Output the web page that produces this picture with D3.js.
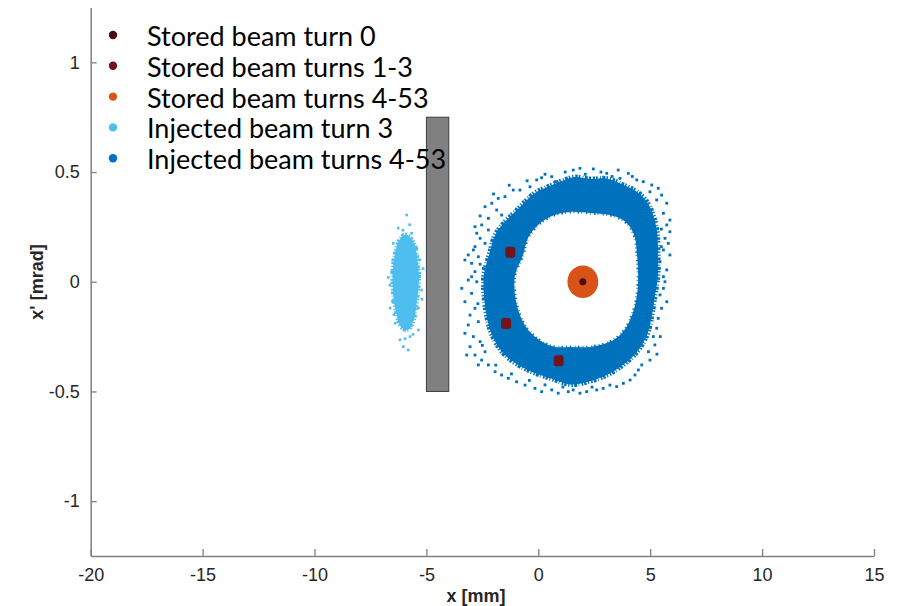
<!DOCTYPE html>
<html>
<head>
<meta charset="utf-8">
<script src="https://cdn.jsdelivr.net/npm/d3@7"></script>
<style>
  html, body { margin: 0; padding: 0; background: #fff; }
  svg { display: block; }
</style>
</head>
<body>
<svg id="chart" width="905" height="606"></svg>
<script>
// ---------- data ----------
const xDomain = [-20, 15];
const yDomain = [-1.25, 1.25];
const xTicks = [-20, -15, -10, -5, 0, 5, 10, 15];
const yTicks = [-1, -0.5, 0, 0.5, 1];
const xLabel = "x [mm]";
const yLabel = "x' [mrad]";

const legendLabels = ["Stored beam turn 0", "Stored beam turns 1-3", "Stored beam turns 4-53", "Injected beam turn 3", "Injected beam turns 4-53"];
const seriesColors = ["#4a0c12", "#72141b", "#d95319", "#4dbeee", "#0072bd"];

// septum blade (x range, x' range)
const septumX = [-5, -4];
const septumY = [-0.5, 0.75];

// Stored beam turn 0 (centre)
const storedTurn0 = [[1.99, 0.0]];
// Stored beam turns 1-3 (three compact blobs)
const storedTurns13 = [[-1.25, 0.135], [-1.44, -0.19], [0.91, -0.36]];
// Stored beam turns 4-53: filled spot, centre and half extents
const storedTurns453 = { cx: 1.99, cy: 0.0, hx: 0.69, hy: 0.074 };

// Injected beam turn 3: dense core outline
const injectedCore = [[-5.90, 0.215], [-5.55, 0.175], [-5.40, 0.099], [-5.33, 0.008], [-5.42, -0.083], [-5.55, -0.170], [-5.82, -0.220], [-6.12, -0.208], [-6.36, -0.138], [-6.50, -0.038], [-6.50, 0.063], [-6.35, 0.150], [-6.15, 0.200]];
// Injected beam turn 3: sparse particles
const injectedSparse = [[-5.88, 0.304], [-6.26, 0.244], [-5.66, 0.221], [-6.48, 0.175], [-5.43, 0.152], [-6.55, 0.046], [-5.29, 0.039], [-6.63, -0.015], [-5.21, -0.038], [-6.40, -0.189], [-5.36, -0.220], [-6.18, -0.265], [-5.73, -0.250], [-6.03, -0.296], [-5.81, -0.311], [-6.05, 0.235], [-5.75, 0.26], [-6.5, 0.10], [-5.3, 0.10], [-5.35, -0.12], [-6.52, -0.09], [-6.45, -0.15], [-5.95, -0.26], [-5.6, -0.24], [-6.7, 0.02], [-5.15, 0.06], [-5.2, -0.08], [-6.62, -0.12]];

// Injected beam turns 4-53: ring outer / inner outlines
const ringOuter = [[1.64, 0.477], [2.31, 0.468], [3.07, 0.470], [3.78, 0.442], [4.41, 0.410], [4.86, 0.364], [5.13, 0.304], [5.31, 0.227], [5.35, 0.122], [5.35, 0.031], [5.22, -0.060], [5.08, -0.152], [4.86, -0.243], [4.41, -0.320], [3.78, -0.380], [3.07, -0.425], [2.18, -0.457], [1.42, -0.468], [0.61, -0.442], [-0.28, -0.411], [-1.04, -0.370], [-1.62, -0.320], [-2.07, -0.243], [-2.29, -0.165], [-2.43, -0.060], [-2.43, 0.031], [-2.20, 0.122], [-1.93, 0.213], [-1.49, 0.273], [-1.04, 0.318], [-0.60, 0.364], [-0.15, 0.405], [0.43, 0.433], [1.10, 0.462]];
const ringInner = [[1.42, 0.318], [2.31, 0.313], [3.20, 0.304], [3.78, 0.281], [4.10, 0.249], [4.32, 0.199], [4.41, 0.122], [4.46, 0.031], [4.41, -0.060], [4.19, -0.152], [3.78, -0.229], [3.20, -0.274], [2.31, -0.297], [1.42, -0.297], [0.75, -0.297], [0.17, -0.274], [-0.46, -0.219], [-0.82, -0.152], [-1.04, -0.060], [-1.04, 0.031], [-0.68, 0.122], [-0.46, 0.199], [-0.01, 0.259], [0.61, 0.300]];
// Injected beam turns 4-53: sparse halo particles
const ringHalo = [
  [-0.07, 0.464], [0.15, 0.474], [0.60, 0.479], [0.75, 0.456], [-0.37, 0.433], [-0.82, 0.418], [-1.12, 0.418], [-1.49, 0.388], [-1.79, 0.380], [-2.08, 0.358], [-2.38, 0.342], [-1.86, 0.327], [-1.64, 0.304], [-2.23, 0.289], [-2.53, 0.259], [-2.83, 0.251], [-2.23, 0.236], [-2.75, 0.221], [-2.60, 0.198], [-2.38, 0.175], [-2.83, 0.160], [-2.90, 0.145], [-3.13, 0.122], [-3.28, 0.099], [-2.68, 0.114], [-2.98, 0.084], [-2.46, 0.061], [-2.83, 0.046], [-2.98, 0.023],
  [1.56, 0.509], [1.86, 0.517], [2.46, 0.514], [3.06, 0.494], [3.57, 0.509], [4.02, 0.494], [3.65, 0.471], [4.40, 0.464], [4.69, 0.456], [5.07, 0.441], [4.99, 0.410], [5.36, 0.426], [5.51, 0.395], [5.29, 0.373], [5.74, 0.358], [5.59, 0.312], [5.88, 0.281], [5.74, 0.259], [5.88, 0.228], [5.66, 0.198], [5.81, 0.175], [5.59, 0.145], [5.88, 0.122], [5.44, 0.091], [5.74, 0.054], [5.59, 0.023],
  [-3.13, 0.008], [-3.42, -0.030], [-2.98, -0.053], [-3.28, -0.091], [-2.83, -0.121], [-3.05, -0.152], [-2.68, -0.182], [-3.13, -0.197], [-3.28, -0.235], [-2.90, -0.250], [-2.60, -0.273], [-3.05, -0.296], [-2.83, -0.334], [-2.53, -0.357], [-3.20, -0.334], [-2.23, -0.379], [-1.93, -0.410], [-1.64, -0.425], [-1.34, -0.440], [-0.97, -0.456], [-0.59, -0.471], [-0.15, -0.486], [0.15, -0.501], [0.60, -0.493], [0.89, -0.508], [1.34, -0.501], [-2.68, -0.379], [-2.38, -0.319],
  [5.59, -0.030], [5.74, -0.091], [5.51, -0.121], [5.36, -0.167], [5.29, -0.212], [5.14, -0.250], [5.21, -0.288], [4.92, -0.319], [4.99, -0.357], [4.62, -0.379], [4.47, -0.402], [4.32, -0.425], [4.10, -0.448], [3.80, -0.463], [3.50, -0.478], [3.20, -0.471], [2.90, -0.486], [2.61, -0.493], [2.16, -0.501], [1.86, -0.508], [1.56, -0.493], [5.66, 0.000], [5.44, -0.060],
  [-2.6, 0.30], [-2.0, 0.40], [-1.3, 0.44], [-0.5, 0.46], [0.3, 0.49], [1.2, 0.50], [2.1, 0.49], [2.8, 0.50], [3.3, 0.48], [4.2, 0.48], [5.5, 0.24], [5.5, 0.16], [5.45, -0.25], [5.3, -0.33], [2.4, -0.48], [1.1, -0.48], [0.3, -0.47], [-0.4, -0.45], [-1.2, -0.42], [-1.9, -0.38], [-2.5, -0.29], [-2.7, -0.10], [-2.75, 0.0], [-2.6, 0.08]
];

// ---------- layout ----------
const svg = d3.select("#chart");
const x = d3.scaleLinear().domain(xDomain).range([90.7, 874]);
const y = d3.scaleLinear().domain(yDomain).range([556, 7.5]);
const axisColor = "#808080";
const textColor = "#262626";
const tickFont = "'Liberation Sans', Arimo, Arial, Helvetica, sans-serif";
const ragged = "1.2 1.6 2.4 0.9 1.7 2.3 0.8 1.4 2.9 1.1 1.5 2.0";
const raggedInner = "0.9 3.1 1.6 2.2 0.7 4.0 1.3 2.6";

const plot = svg.append("g");

// septum
plot.append("rect")
  .attr("x", x(septumX[0])).attr("y", y(septumY[1]))
  .attr("width", x(septumX[1]) - x(septumX[0]))
  .attr("height", y(septumY[0]) - y(septumY[1]))
  .attr("fill", "#808080").attr("stroke", "#3c3c3c").attr("stroke-width", 1);

// injected turn 3
const closedLine = d3.line().x(d => x(d[0])).y(d => y(d[1])).curve(d3.curveCatmullRomClosed);
plot.append("path").attr("d", closedLine(injectedCore)).attr("fill", seriesColors[3])
  .attr("stroke", seriesColors[3]).attr("stroke-width", 4).attr("stroke-dasharray", ragged);
plot.selectAll(".inj").data(injectedSparse).join("rect")
  .attr("x", d => x(d[0]) - 1.3).attr("y", d => y(d[1]) - 1.3)
  .attr("width", 2.6).attr("height", 2.6).attr("fill", seriesColors[3]);

// injected turns 4-53 ring
plot.append("path")
  .attr("d", closedLine(ringOuter) + closedLine(ringInner))
  .attr("fill", seriesColors[4]).attr("fill-rule", "evenodd");
plot.append("path").attr("d", closedLine(ringOuter)).attr("fill", "none")
  .attr("stroke", seriesColors[4]).attr("stroke-width", 5).attr("stroke-dasharray", ragged);
plot.append("path").attr("d", closedLine(ringInner)).attr("fill", "none")
  .attr("stroke", seriesColors[4]).attr("stroke-width", 3).attr("stroke-dasharray", raggedInner);
plot.selectAll(".halo").data(ringHalo).join("rect")
  .attr("x", d => x(d[0]) - 1.4).attr("y", d => y(d[1]) - 1.4)
  .attr("width", 2.8).attr("height", 2.8).attr("fill", seriesColors[4]);

// stored 4-53
plot.append("ellipse")
  .attr("cx", x(storedTurns453.cx)).attr("cy", y(storedTurns453.cy))
  .attr("rx", x(storedTurns453.cx + storedTurns453.hx) - x(storedTurns453.cx))
  .attr("ry", y(storedTurns453.cy) - y(storedTurns453.cy + storedTurns453.hy))
  .attr("fill", seriesColors[2]);

// stored 1-3
plot.selectAll(".s13").data(storedTurns13).join("rect")
  .attr("x", d => x(d[0]) - 5).attr("y", d => y(d[1]) - 5.5)
  .attr("width", 10).attr("height", 11).attr("rx", 3)
  .attr("fill", seriesColors[1]);

// stored 0
plot.selectAll(".s0").data(storedTurn0).join("circle")
  .attr("cx", d => x(d[0])).attr("cy", d => y(d[1])).attr("r", 3.5)
  .attr("fill", seriesColors[0]);

// ---------- axes ----------
const xAxis = svg.append("g").attr("transform", `translate(0,${y(yDomain[0])})`)
  .call(d3.axisBottom(x).tickValues(xTicks).tickSizeInner(-7).tickSizeOuter(0).tickPadding(12).tickFormat(d => String(d)));
const yAxis = svg.append("g").attr("transform", `translate(${x(xDomain[0])},0)`)
  .call(d3.axisLeft(y).tickValues(yTicks).tickSizeInner(-6).tickSizeOuter(0).tickPadding(11).tickFormat(d => String(d)));
[xAxis, yAxis].forEach(a => {
  a.attr("font-family", tickFont).attr("font-size", 18);
  a.select(".domain").attr("stroke", axisColor).attr("stroke-width", 1.5);
  a.selectAll(".tick line").attr("stroke", axisColor).attr("stroke-width", 1.3);
  a.selectAll(".tick text").attr("fill", textColor).style("font-family", tickFont).style("font-size", "18px");
});

svg.append("text").attr("x", 476).attr("y", 602)
  .attr("text-anchor", "middle").style("font-family", tickFont).style("font-size", "18px")
  .attr("font-weight", "bold").attr("fill", textColor).text(xLabel);
svg.append("text").attr("transform", `translate(43,282) rotate(-90)`)
  .attr("text-anchor", "middle").style("font-family", tickFont).style("font-size", "18px")
  .attr("font-weight", "bold").attr("fill", textColor).text(yLabel);

// ---------- legend ----------
const legend = svg.append("g");
legendLabels.forEach((lab, i) => {
  const cy = 35 + i * 30.8;
  legend.append("circle").attr("cx", 113).attr("cy", cy).attr("r", 4.2).attr("fill", seriesColors[i]);
  legend.append("text").attr("x", 147).attr("y", cy + 11)
    .style("font-family", "Lato, 'Open Sans', sans-serif").style("font-size", "27px")
    .attr("fill", "#000").text(lab);
});
</script>
</body>
</html>
